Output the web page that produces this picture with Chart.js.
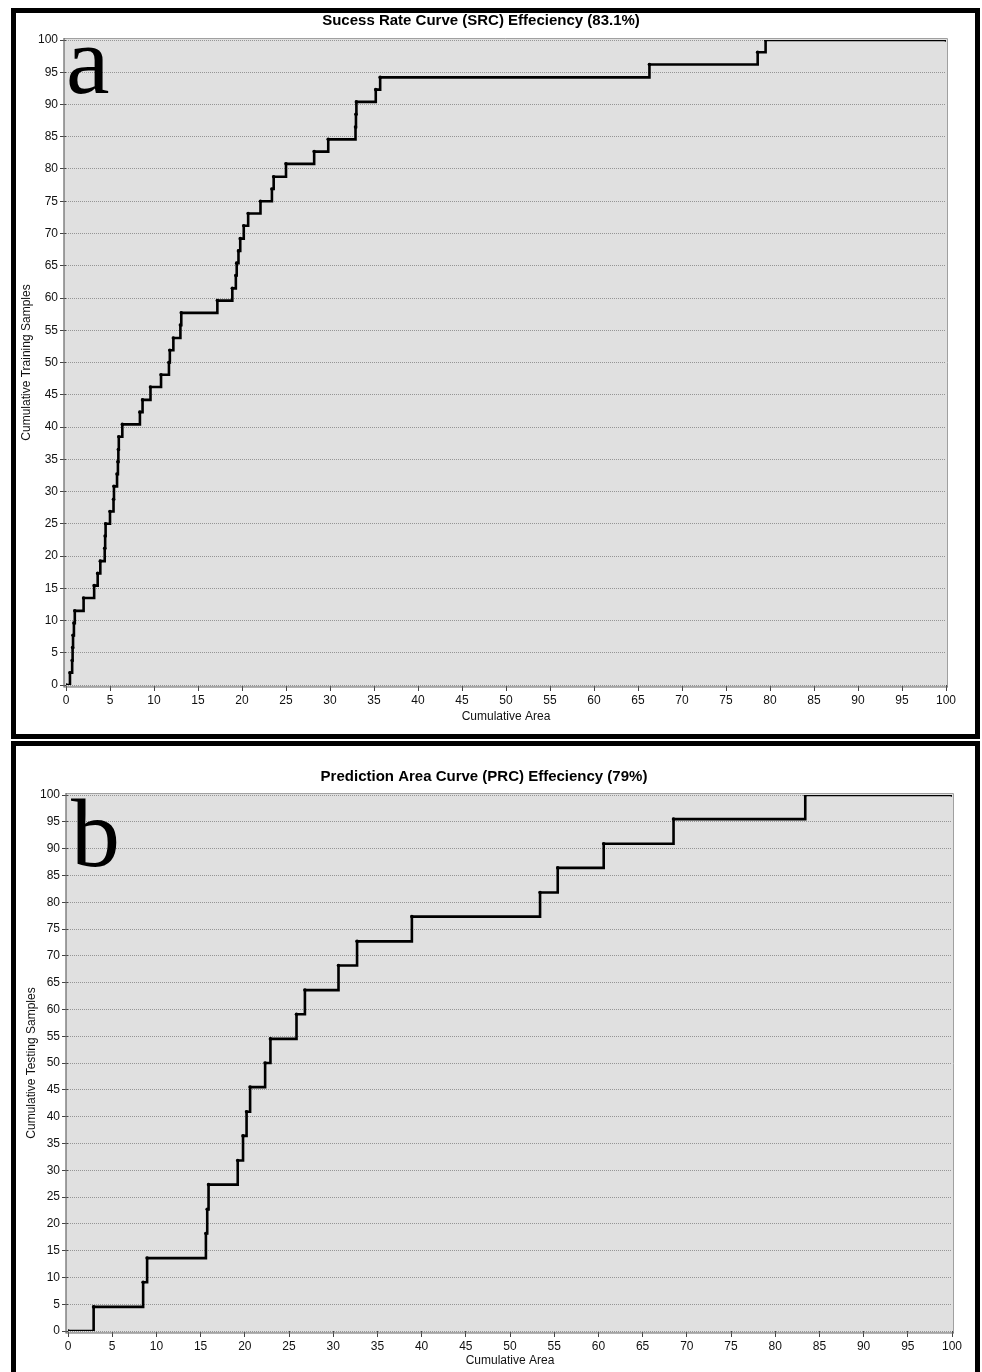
<!DOCTYPE html>
<html>
<head>
<meta charset="utf-8">
<script src="https://cdn.jsdelivr.net/npm/chart.js@4/dist/chart.umd.min.js"></script>
<style>
html,body{margin:0;padding:0;background:#fff;width:982px;height:1372px;overflow:hidden;position:relative}
.box{position:absolute;left:11px;width:969px;border:5px solid #000;box-sizing:border-box;background:#fff}
#boxA{top:8px;height:731px}
#boxB{top:741px;height:640px}
canvas{position:absolute}
#cA{left:16px;top:13px}
#cB{left:16px;top:746px}
.letter{position:absolute;font-family:"Liberation Serif","Times New Roman",serif;font-size:98px;line-height:98px;color:#000}
</style>
</head>
<body>
<div class="box" id="boxA"></div>
<div class="box" id="boxB"></div>
<canvas id="cA" width="956" height="720"></canvas>
<canvas id="cB" width="956" height="626"></canvas>
<div class="letter" style="left:66px;top:11px">a</div>
<div class="letter" style="left:71px;top:784px">b</div>
<script>
// ---- Data ----
const srcArea = [0, 0.45, 0.7, 0.75, 0.8, 0.9, 1.0, 2.0, 3.2, 3.6, 3.9, 4.4, 4.45, 4.5, 5.0, 5.4, 5.45, 5.8, 5.9, 5.95, 6.0, 6.4, 8.4, 8.7, 9.6, 10.8, 11.7, 11.8, 12.2, 13.0, 13.1, 17.2, 18.9, 19.3, 19.4, 19.6, 19.8, 20.2, 20.7, 22.1, 23.4, 23.6, 25.0, 28.2, 29.8, 32.9, 32.95, 33.0, 35.2, 35.7, 66.3, 78.6, 79.5, 100];
const srcSamples = [0, 1.9, 3.8, 5.8, 7.7, 9.6, 11.5, 13.5, 15.4, 17.3, 19.2, 21.2, 23.1, 25.0, 26.9, 28.8, 30.8, 32.7, 34.6, 36.5, 38.5, 40.4, 42.3, 44.2, 46.2, 48.1, 50.0, 51.9, 53.8, 55.8, 57.7, 59.6, 61.5, 63.5, 65.4, 67.3, 69.2, 71.2, 73.1, 75.0, 76.9, 78.8, 80.8, 82.7, 84.6, 86.5, 88.5, 90.4, 92.3, 94.2, 96.2, 98.1, 100, 100];

const prcArea = [0, 2.9, 8.5, 8.95, 15.6, 15.75, 15.9, 19.2, 19.8, 20.2, 20.6, 22.3, 22.9, 25.85, 26.8, 30.6, 32.7, 38.9, 53.4, 55.4, 60.6, 68.5, 83.4, 100];
const prcSamples = [0, 4.5, 9.1, 13.6, 18.2, 22.7, 27.3, 31.8, 36.4, 40.9, 45.5, 50.0, 54.5, 59.1, 63.6, 68.2, 72.7, 77.3, 81.8, 86.4, 90.9, 95.5, 100, 100];

const xTickValues = [0,5,10,15,20,25,30,35,40,45,50,55,60,65,70,75,80,85,90,95,100];
const yTickValues = [0,5,10,15,20,25,30,35,40,45,50,55,60,65,70,75,80,85,90,95,100];

const titleA = 'Sucess Rate Curve (SRC) Effeciency (83.1%)';
const titleB = 'Prediction Area Curve (PRC) Effeciency (79%)';
const xTitle = 'Cumulative Area';
const yTitleA = 'Cumulative Training Samples';
const yTitleB = 'Cumulative Testing Samples';

Chart.defaults.font.family = '"Liberation Sans", Arial, Helvetica, sans-serif';
Chart.defaults.color = '#111';

const framePlugin = {
  id: 'frame',
  beforeDraw(chart) {
    const {ctx, chartArea: a} = chart;
    ctx.save();
    ctx.fillStyle = '#e0e0e0';
    ctx.fillRect(a.left - 2, a.top - 2, a.right - a.left + 3, a.bottom - a.top + 4);
    ctx.restore();
  },
  beforeDatasetsDraw(chart) {
    const {ctx, chartArea: a} = chart;
    ctx.save();
    ctx.lineWidth = 1;
    ctx.strokeStyle = '#a0a0a0';
    ctx.beginPath();
    ctx.moveTo(a.left - 2, a.top - 1.5);
    ctx.lineTo(a.right + 1.5, a.top - 1.5);
    ctx.lineTo(a.right + 1.5, a.bottom + 2);
    ctx.stroke();
    ctx.strokeStyle = '#666';
    ctx.lineWidth = 1.2;
    ctx.beginPath();
    ctx.moveTo(a.left - 2, a.top - 2);
    ctx.lineTo(a.left - 2, a.bottom + 2);
    ctx.lineTo(a.right + 2, a.bottom + 2);
    ctx.stroke();
    ctx.restore();
  }
};

function makeChart(id, xs, ys, cfg) {
  const pts = xs.map((x, i) => ({x: x, y: ys[i]}));
  return new Chart(document.getElementById(id), {
    type: 'line',
    data: {
      datasets: [{
        data: pts,
        stepped: true,
        borderColor: '#000',
        borderWidth: 2.6,
        pointRadius: 1.8,
        pointBackgroundColor: '#000',
        pointBorderWidth: 0,
        fill: false
      }]
    },
    plugins: [framePlugin],
    options: {
      responsive: false,
      animation: false,
      layout: {padding: {left: 0, right: cfg.padRight, top: 0, bottom: 0}},
      plugins: {
        legend: {display: false},
        tooltip: {enabled: false},
        title: {
          display: true,
          text: cfg.title,
          color: '#000',
          font: {size: 15, weight: 'bold', lineHeight: 1},
          padding: {top: cfg.titleTop, bottom: cfg.titleBottom}
        }
      },
      scales: {
        x: {
          type: 'linear',
          min: 0, max: 100,
          afterFit: s => { s.height = cfg.xHeight; },
          afterBuildTicks: s => { s.ticks = xTickValues.map(v => ({value: v})); },
          ticks: {autoSkip: false, maxRotation: 0, padding: 2, color: '#111', font: {size: 12}},
          grid: {display: true, drawOnChartArea: false, drawTicks: true, tickLength: 6, tickColor: '#444', tickWidth: 1},
          border: {display: false},
          title: {display: true, text: xTitle, color: '#111', font: {size: 12, lineHeight: 1.2}, padding: {top: 0, bottom: cfg.xTitleBottom}}
        },
        y: {
          type: 'linear',
          min: 0, max: 100,
          afterFit: s => { s.width = cfg.yWidth; },
          afterBuildTicks: s => { s.ticks = yTickValues.map(v => ({value: v})); },
          ticks: {autoSkip: false, padding: 2, color: '#111', font: {size: 12}},
          grid: {display: true, drawOnChartArea: true, drawTicks: true, tickLength: 6, color: '#959595', lineWidth: 1, tickColor: '#444', tickWidth: 1},
          border: {display: false, dash: [1, 1]},
          title: {display: true, text: cfg.yTitle, color: '#111', font: {size: 12, lineHeight: 1.2}, padding: {top: cfg.yTitlePad, bottom: 0}}
        }
      }
    }
  });
}

makeChart('cA', srcArea, srcSamples, {
  title: titleA, yTitle: yTitleA,
  padRight: 26, titleTop: 0, titleBottom: 12,
  xHeight: 48, xTitleBottom: 8.8,
  yWidth: 50, yTitlePad: 3
});

makeChart('cB', prcArea, prcSamples, {
  title: titleB, yTitle: yTitleB,
  padRight: 20, titleTop: 23.5, titleBottom: 10.5,
  xHeight: 41, xTitleBottom: 3.8,
  yWidth: 52, yTitlePad: 8.8
});
</script>
</body>
</html>
